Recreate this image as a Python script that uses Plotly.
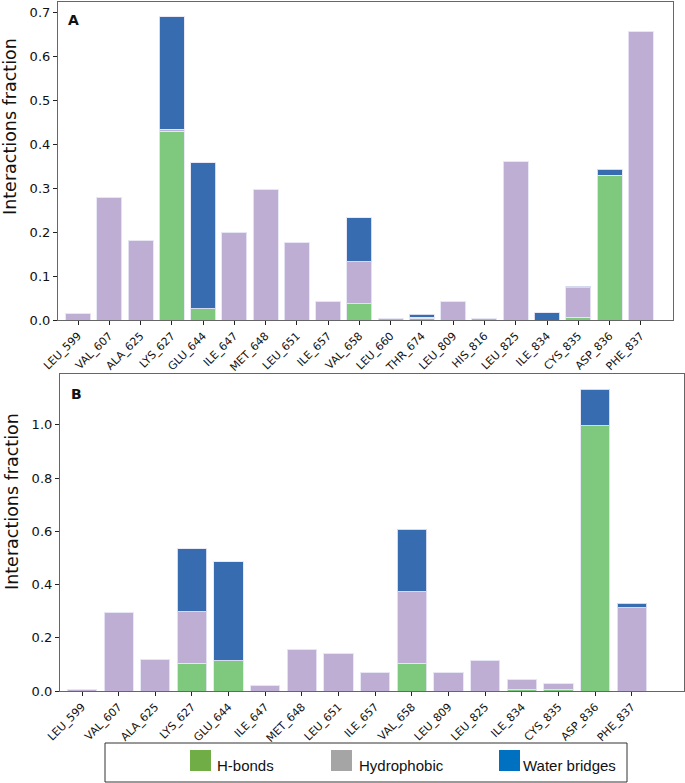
import plotly.graph_objects as go
from plotly.subplots import make_subplots

W, H = 685, 783

# ---- Panel A data ----
res_a = ["LEU_599", "VAL_607", "ALA_625", "LYS_627", "GLU_644", "ILE_647", "MET_648",
         "LEU_651", "ILE_657", "VAL_658", "LEU_660", "THR_674", "LEU_809", "HIS_816",
         "LEU_825", "ILE_834", "CYS_835", "ASP_836", "PHE_837"]
hb_a = [0.0, 0.0, 0.0, 0.430, 0.026, 0.0, 0.0, 0.0, 0.0, 0.037, 0.0, 0.004, 0.0, 0.0,
        0.0, 0.0, 0.006, 0.330, 0.0]
hp_a = [0.014, 0.280, 0.180, 0.005, 0.0, 0.200, 0.298, 0.176, 0.043, 0.096, 0.003, 0.002,
        0.042, 0.003, 0.361, 0.0, 0.068, 0.0, 0.657]
wb_a = [0.0, 0.0, 0.0, 0.256, 0.332, 0.0, 0.0, 0.0, 0.0, 0.100, 0.0, 0.007, 0.0, 0.0,
        0.0, 0.016, 0.003, 0.014, 0.0]
yt_a = [0.0, 0.1, 0.2, 0.3, 0.4, 0.5, 0.6, 0.7]

# ---- Panel B data ----
res_b = ["LEU_599", "VAL_607", "ALA_625", "LYS_627", "GLU_644", "ILE_647", "MET_648",
         "LEU_651", "ILE_657", "VAL_658", "LEU_809", "LEU_825", "ILE_834", "CYS_835",
         "ASP_836", "PHE_837"]
hb_b = [0.0, 0.0, 0.0, 0.105, 0.113, 0.0, 0.0, 0.0, 0.0, 0.105, 0.0, 0.0, 0.004, 0.005,
        0.997, 0.0]
hp_b = [0.004, 0.294, 0.120, 0.193, 0.0, 0.021, 0.157, 0.140, 0.069, 0.268, 0.068, 0.115,
        0.041, 0.023, 0.0, 0.313]
wb_b = [0.0, 0.0, 0.0, 0.237, 0.373, 0.0, 0.0, 0.0, 0.0, 0.234, 0.0, 0.0, 0.0, 0.0,
        0.137, 0.017]
yt_b = [0.0, 0.2, 0.4, 0.6, 0.8, 1.0]

legend_names = ["H-bonds", "Hydrophobic", "Water bridges"]
legend_colors = ["#70AD47", "#A5A5A5", "#0070C0"]
bar_colors = ["#7FC97F", "#BEAED4", "#386CB0"]

def px_x(x):
    return x / W

def px_y(y):
    return 1 - y / H

fig = make_subplots(rows=2, cols=1)

for row, res, series in [(1, res_a, [hb_a, hp_a, wb_a]), (2, res_b, [hb_b, hp_b, wb_b])]:
    for name, col, vals in zip(legend_names, bar_colors, series):
        fig.add_trace(go.Bar(x=res, y=vals, name=name, showlegend=False,
                             marker=dict(color=col, line=dict(color="rgba(230,230,245,0.9)", width=1))),
                      row=row, col=1)

fig.update_layout(barmode="stack", bargap=0.2, width=W, height=H,
                  margin=dict(l=0, r=0, t=0, b=0, autoexpand=False),
                  paper_bgcolor="white", plot_bgcolor="white",
                  font=dict(family="DejaVu Sans", color="#222"))

axis_common = dict(showline=True, linecolor="#666", linewidth=1.2, mirror=True,
                   ticks="outside", ticklen=4, tickcolor="#222", showgrid=False,
                   zeroline=False, automargin=False)

fig.update_xaxes(domain=[px_x(58), px_x(673)], range=[-0.64, 19.03], tickangle=-45,
                 tickfont=dict(size=11, color="#111"), **axis_common, row=1, col=1)
fig.update_yaxes(domain=[px_y(320), px_y(2)], range=[0, 0.7245], tickvals=yt_a,
                 ticktext=[f"{v:.1f}" for v in yt_a], tickfont=dict(size=13, color="#111"),
                 **axis_common, row=1, col=1)
fig.update_xaxes(domain=[px_x(60), px_x(684)], range=[-0.6, 16.42], tickangle=-45,
                 tickfont=dict(size=11, color="#111"), **axis_common, row=2, col=1)
fig.update_yaxes(domain=[px_y(691), px_y(374)], range=[0, 1.191], tickvals=yt_b,
                 ticktext=[f"{v:.1f}" for v in yt_b], tickfont=dict(size=13, color="#111"),
                 **axis_common, row=2, col=1)

def note(text, x, y, size, xanchor="center", angle=0, family="DejaVu Sans"):
    return dict(text=text, x=px_x(x), y=px_y(y), xref="paper", yref="paper",
                xanchor=xanchor, yanchor="middle", textangle=angle, showarrow=False,
                font=dict(size=size, color="#111", family=family))

ann = [
    note("Interactions fraction", 10, 127, 17.5, angle=-90),
    note("Interactions fraction", 12, 502, 17.5, angle=-90),
    note("<b>A</b>", 73, 20, 14),
    note("<b>B</b>", 76, 394, 14),
]

shapes = [dict(type="rect", xref="paper", yref="paper", x0=px_x(105), x1=px_x(627),
               y0=px_y(782), y1=px_y(743), line=dict(color="#333", width=1), fillcolor="white")]
sq_x = [190, 331, 499]
txt_x = [215, 357, 521]
for name, col, sx, tx in zip(legend_names, legend_colors, sq_x, txt_x):
    shapes.append(dict(type="rect", xref="paper", yref="paper", x0=px_x(sx), x1=px_x(sx + 21),
                       y0=px_y(771), y1=px_y(750), line=dict(width=0), fillcolor=col))
    ann.append(note(name, tx, 765, 15, xanchor="left", family="Liberation Sans"))

fig.update_layout(annotations=ann, shapes=shapes)
fig.write_html("out.html", config={"displayModeBar": False},
               post_script="document.body.style.margin='0';document.body.style.overflow='hidden';")
